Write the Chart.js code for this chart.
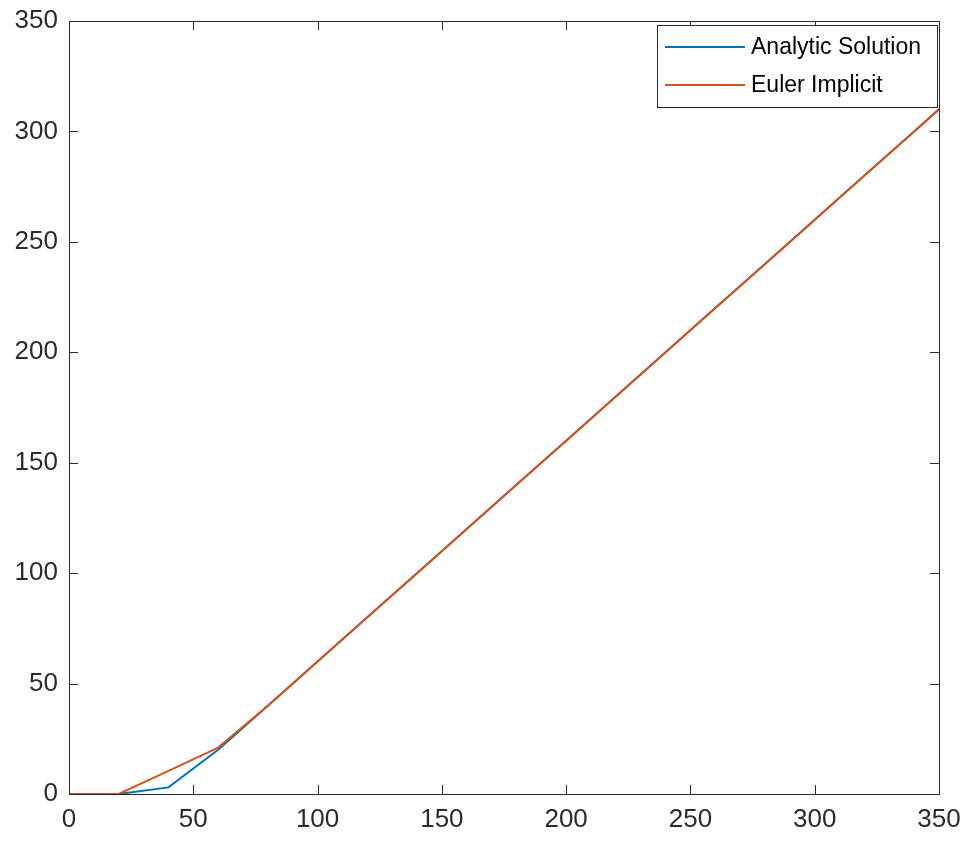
<!DOCTYPE html>
<html>
<head>
<meta charset="utf-8">
<script src="https://cdn.jsdelivr.net/npm/chart.js@4.4.1/dist/chart.umd.min.js"></script>
<style>
  html, body { margin: 0; padding: 0; background: #fff; }
  #wrap { width: 968px; height: 848px; }
</style>
</head>
<body>
<div id="wrap"><canvas id="plot"></canvas></div>
<script>
// values
const xAnalytic = [0, 20, 40, 60, 80, 100, 120, 140, 160, 180, 200, 220, 240, 260, 280, 300, 320, 340, 350];
const yAnalytic = [0, 0, 3, 20, 40, 60, 80, 100, 120, 140, 160, 180, 200, 220, 240, 260, 280, 300, 310];
const xEuler = [0, 20, 40, 60, 80, 100, 120, 140, 160, 180, 200, 220, 240, 260, 280, 300, 320, 340, 350];
const yEuler = [0, 0, 10.5, 21, 40, 60, 80, 100, 120, 140, 160, 180, 200, 220, 240, 260, 280, 300, 310];
const tickValues = [0, 50, 100, 150, 200, 250, 300, 350];

const toPoints = (xs, ys) => xs.map((x, i) => ({ x: x, y: ys[i] }));

const axisColor = "#2b2b2b";
const fontFamily = "'Liberation Sans', Arial, sans-serif";

// MATLAB style box with inward ticks and a boxed legend
const matlabFrame = {
  id: "matlabFrame",
  afterDraw(chart) {
    const c = chart.ctx;
    const area = chart.chartArea;
    const xs = chart.scales.x;
    const ys = chart.scales.y;
    c.save();
    c.strokeStyle = axisColor;
    c.lineWidth = 1;
    c.strokeRect(area.left + 0.5, area.top + 0.5, area.right - area.left, area.bottom - area.top);
    const len = 9;
    c.beginPath();
    tickValues.forEach((v) => {
      const px = Math.round(xs.getPixelForValue(v)) + 0.5;
      c.moveTo(px, area.bottom);
      c.lineTo(px, area.bottom - len);
      c.moveTo(px, area.top);
      c.lineTo(px, area.top + len);
      const py = Math.round(ys.getPixelForValue(v)) + 0.5;
      c.moveTo(area.left, py);
      c.lineTo(area.left + len, py);
      c.moveTo(area.right, py);
      c.lineTo(area.right - len, py);
    });
    c.stroke();

    // legend (entries listed in plotting order)
    const box = { left: 657, top: 25, right: 937, bottom: 107 };
    c.fillStyle = "#fff";
    c.fillRect(box.left, box.top, box.right - box.left, box.bottom - box.top);
    c.strokeRect(box.left + 0.5, box.top + 0.5, box.right - box.left, box.bottom - box.top);
    c.font = "23px " + fontFamily;
    c.textBaseline = "middle";
    c.textAlign = "left";
    const rows = [47, 85];
    chart.data.datasets.forEach((ds, i) => {
      c.strokeStyle = ds.borderColor;
      c.lineWidth = 2;
      c.beginPath();
      c.moveTo(665, rows[i]);
      c.lineTo(745, rows[i]);
      c.stroke();
      c.fillStyle = "#000";
      c.fillText(ds.label, 751, rows[i] + 1);
    });
    c.restore();
  },
};

new Chart(document.getElementById("plot"), {
  type: "line",
  data: {
    datasets: [
      {
        label: "Analytic Solution",
        data: toPoints(xAnalytic, yAnalytic),
        borderColor: "#0072BD",
        borderWidth: 2,
        pointRadius: 0,
        tension: 0,
        order: 1,
      },
      {
        label: "Euler Implicit",
        data: toPoints(xEuler, yEuler),
        borderColor: "#D95319",
        borderWidth: 2,
        pointRadius: 0,
        tension: 0,
        order: 0,
      },
    ],
  },
  options: {
    responsive: true,
    maintainAspectRatio: false,
    animation: false,
    layout: { padding: { top: 21, right: 29, left: 0, bottom: 0 } },
    plugins: { legend: { display: false }, tooltip: { enabled: false } },
    scales: {
      x: {
        type: "linear",
        min: 0,
        max: 350,
        afterFit: (s) => {
          s.height = 54;
          s.paddingLeft = 0;
          s.paddingRight = 0;
        },
        afterBuildTicks: (s) => { s.ticks = tickValues.map((v) => ({ value: v })); },
        grid: { display: false, drawTicks: false },
        border: { display: false },
        ticks: {
          padding: 10,
          color: axisColor,
          font: { family: fontFamily, size: 26 },
          maxRotation: 0,
        },
      },
      y: {
        type: "linear",
        min: 0,
        max: 350,
        afterFit: (s) => {
          s.width = 69;
          s.paddingTop = 0;
          s.paddingBottom = 0;
        },
        afterBuildTicks: (s) => { s.ticks = tickValues.map((v) => ({ value: v })); },
        grid: { display: false, drawTicks: false },
        border: { display: false },
        ticks: {
          padding: 11,
          color: axisColor,
          font: { family: fontFamily, size: 26 },
        },
      },
    },
  },
  plugins: [matlabFrame],
});
</script>
</body>
</html>
